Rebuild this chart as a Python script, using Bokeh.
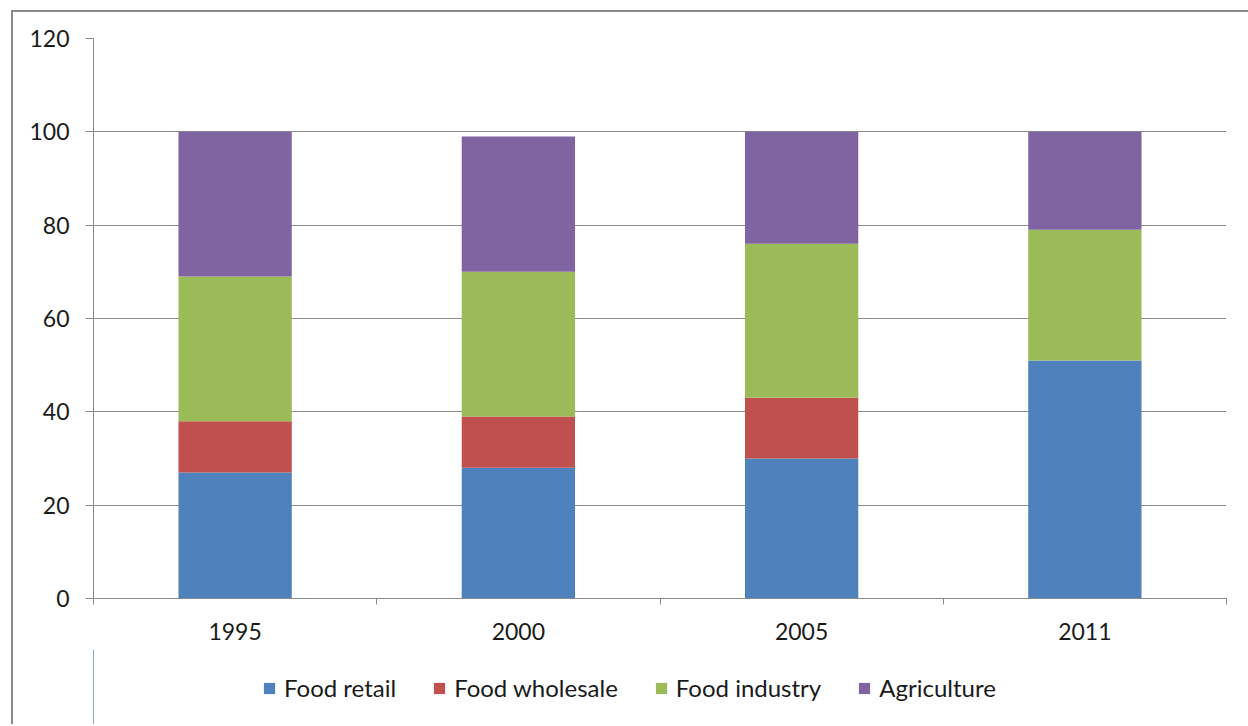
from bokeh.plotting import figure
from bokeh.layouts import column
from bokeh.models import Range1d, FixedTicker, Legend, LegendItem, ColumnDataSource
from bokeh.embed import file_html
from bokeh.resources import INLINE

years = ["1995", "2000", "2005", "2011"]
series = ["Food retail", "Food wholesale", "Food industry", "Agriculture"]
food_retail = [27, 28, 30, 51]
food_wholesale = [11, 11, 13, 0]
food_industry = [31, 31, 33, 28]
agriculture = [31, 29, 24, 21]
colors = ["#4F81BD", "#C0504D", "#9BBB59", "#8064A2"]
y_ticks = [0, 20, 40, 60, 80, 100, 120]

FONT = "Lato"
GRAY = "#8a8a8a"
stackers = ["retail", "wholesale", "industry", "agri"]
pos = [i + 0.5 for i in range(len(years))]
src = ColumnDataSource(dict(x=pos, retail=food_retail, wholesale=food_wholesale,
                            industry=food_industry, agri=agriculture))

p = figure(frame_width=1133, frame_height=560, output_backend="svg", toolbar_location=None,
           x_range=Range1d(0, len(years)), y_range=Range1d(0, 120),
           min_border_left=80, min_border_right=22, min_border_top=26, min_border_bottom=52)
p.outline_line_color = None
p.background_fill_color = "white"
p.border_fill_color = "white"

rs = p.vbar_stack(stackers, x="x", width=0.4, source=src, color=colors, line_color=None)

# axes
p.xaxis.ticker = FixedTicker(ticks=pos, minor_ticks=list(range(len(years) + 1)))
p.xaxis.major_label_overrides = {pv: y for pv, y in zip(pos, years)}
p.xaxis.major_tick_out = 0
p.xaxis.major_tick_in = 0
p.xaxis.minor_tick_out = 6
p.xaxis.minor_tick_in = 0
p.xaxis.minor_tick_line_color = GRAY
p.xaxis.axis_line_color = GRAY
p.xaxis.major_label_standoff = 18
p.xaxis.major_label_text_font = FONT
p.xaxis.major_label_text_font_size = "23px"
p.xaxis.major_label_text_color = "#1a1a1a"

p.yaxis.ticker = FixedTicker(ticks=y_ticks)
p.yaxis.minor_tick_line_color = None
p.yaxis.major_tick_out = 8
p.yaxis.major_tick_in = 0
p.yaxis.major_tick_line_color = GRAY
p.yaxis.axis_line_color = GRAY
p.yaxis.major_label_standoff = 16
p.yaxis.major_label_text_font = FONT
p.yaxis.major_label_text_font_size = "23px"
p.yaxis.major_label_text_color = "#1a1a1a"

p.xgrid.grid_line_color = None
p.ygrid.ticker = FixedTicker(ticks=y_ticks)
p.ygrid.grid_line_color = GRAY
p.ygrid.grid_line_width = 1

# legend strip (separate figure below the chart; its stacked bars lie outside its view)
p2 = figure(width=1235, height=74, output_backend="svg", toolbar_location=None,
            x_range=Range1d(100, 101), y_range=Range1d(0, 1), min_border=0)
p2.outline_line_color = None
p2.axis.visible = False
p2.grid.visible = False
keys = p2.vbar_stack(stackers, x="x", width=0.4, source=src, color=colors, line_color=None)

legend = Legend(items=[LegendItem(label=s, renderers=[r]) for s, r in zip(series, keys)],
                orientation="horizontal", location=(169, 22))
legend.border_line_color = None
legend.background_fill_alpha = 0
legend.label_text_font = FONT
legend.label_text_font_size = "24px"
legend.label_text_color = "#1a1a1a"
legend.glyph_width = 14
legend.glyph_height = 14
legend.label_standoff = 8
legend.spacing = 36
legend.padding = 0
legend.margin = 0
p2.add_layout(legend, "center")

layout = column(p, p2, spacing=0)
layout.margin = (10, 0, 0, 11)
layout.styles = {"border-left": "2px solid " + GRAY, "border-top": "2px solid " + GRAY}
open("out.html", "w").write(file_html(layout, INLINE))
